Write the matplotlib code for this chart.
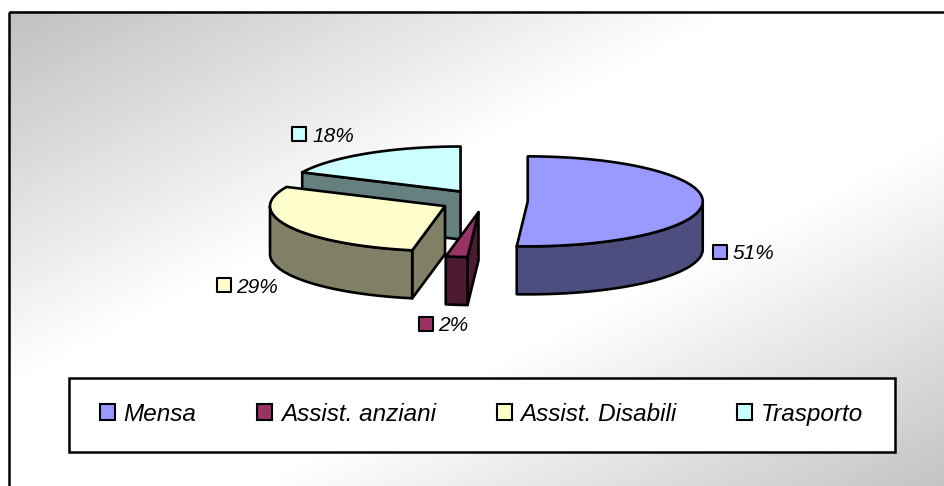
import numpy as np
import matplotlib
matplotlib.use("Agg")
import matplotlib.pyplot as plt
from matplotlib.patches import Polygon, Rectangle, Patch
from matplotlib.font_manager import FontProperties

# ---- data ----
categories = ["Mensa", "Assist. anziani", "Assist. Disabili", "Trasporto"]
values = [51, 2, 29, 18]
pct_labels = ["51%", "2%", "29%", "18%"]

# ---- styles ----
top_colors = ["#9999FF", "#993366", "#FFFFCC", "#CCFFFF"]
side_colors = ["#4D4D80", "#4D1A33", "#808066", "#668080"]
label_anchors = [(719.5, 251.5), (425.5, 323.5), (223.5, 285), (299, 134)]

W, H = 944, 486
fig = plt.figure(figsize=(W / 100, H / 100), dpi=100)
ax = fig.add_axes([0, 0, 1, 1])

# background gradient frame
fx0, fy0, fx1, fy1 = 9, 12, 960, 500
nx, ny = 480, 250
X, Y = np.meshgrid(np.linspace(0, 1, nx), np.linspace(0, 1, ny))
t = (X + Y) / 2
v = 1 - np.abs(2 * t - 1)
g = (192 + (255 - 192) * np.clip(v * 1.3, 0, 1)) / 255
ax.imshow(g, cmap='gray', vmin=0, vmax=1, extent=[fx0, fx1, fy1, fy0],
          aspect='auto', interpolation='bilinear', zorder=0)
ax.add_patch(Rectangle((fx0, fy0), fx1 - fx0, fy1 - fy0, fill=False,
                       ec='black', lw=1.8, zorder=1))

ax.set_xlim(0, W)
ax.set_ylim(H, 0)
ax.axis('off')

# ---- 3D exploded pie ----
cx0, cy0 = 484, 201
rx, ry, depth = 175, 45, 48
explode = 0.25
lw = 1.9

total = float(sum(values))
spans = [360.0 * val / total for val in values]
starts = np.concatenate([[0.0], np.cumsum(spans)[:-1]])


def pt(cx, cy, th, z=0.0):
    r = np.radians(th)
    return cx + rx * np.sin(r), cy - ry * np.cos(r) + z


slices = []
for i, (s, sp) in enumerate(zip(starts, spans)):
    mid = s + sp / 2
    r = np.radians(mid)
    cx = cx0 + explode * rx * np.sin(r)
    cy = cy0 - explode * ry * np.cos(r)
    slices.append((cy, i, s, s + sp, cx))

slices.sort()
for order, (cy, i, s, e, cx) in enumerate(slices):
    z = 2 + order
    side = side_colors[i]
    # start radial face
    if np.sin(np.radians(s)) < -1e-9:
        ox, oy = pt(cx, cy, s)
        ax.add_patch(Polygon([(cx, cy), (ox, oy), (ox, oy + depth), (cx, cy + depth)],
                             closed=True, fc=side, ec='black', lw=lw, joinstyle='round', zorder=z))
    # end radial face
    if np.sin(np.radians(e)) > 1e-9:
        ox, oy = pt(cx, cy, e)
        ax.add_patch(Polygon([(cx, cy), (ox, oy), (ox, oy + depth), (cx, cy + depth)],
                             closed=True, fc=side, ec='black', lw=lw, joinstyle='round', zorder=z))
    # outer wall (front half)
    a, b = max(s, 90), min(e, 270)
    if b > a:
        th = np.linspace(a, b, 80)
        tx, ty = pt(cx, cy, th)
        poly = list(zip(tx, ty)) + list(zip(tx[::-1], ty[::-1] + depth))
        ax.add_patch(Polygon(poly, closed=True, fc=side, ec='black', lw=lw,
                             joinstyle='round', zorder=z))
    # top face
    th = np.linspace(s, e, 150)
    px, py = pt(cx, cy, th)
    poly = [(cx, cy)] + list(zip(px, py))
    ax.add_patch(Polygon(poly, closed=True, fc=top_colors[i], ec='black', lw=lw,
                         joinstyle='round', zorder=z + 0.5))

# ---- data labels ----
lab_font = FontProperties(family='Liberation Sans', style='italic', size=15)
for i, (lx, ly) in enumerate(label_anchors):
    ax.scatter([lx], [ly], marker='s', s=95, c=top_colors[i], edgecolors='black',
               linewidths=1.5, zorder=30)
    ax.text(lx + 13, ly, pct_labels[i], fontproperties=lab_font, ha='left',
            va='center_baseline', zorder=30)

# ---- legend ----
ax.add_patch(Rectangle((69, 378), 826, 74, fc='white', ec='black', lw=1.8, zorder=20))
handles = [Patch(facecolor=c, edgecolor='black', lw=1.5) for c in top_colors]
leg = ax.legend(handles, categories, loc='center', bbox_to_anchor=(481.5, 414),
                bbox_transform=ax.transData, ncol=4, frameon=False,
                prop=FontProperties(family='Liberation Sans', style='italic', size=17.5),
                handlelength=0.62, handleheight=0.62, handletextpad=0.35,
                columnspacing=2.5, borderpad=0)
leg.set_zorder(21)

fig.savefig("out.png", dpi=100)
